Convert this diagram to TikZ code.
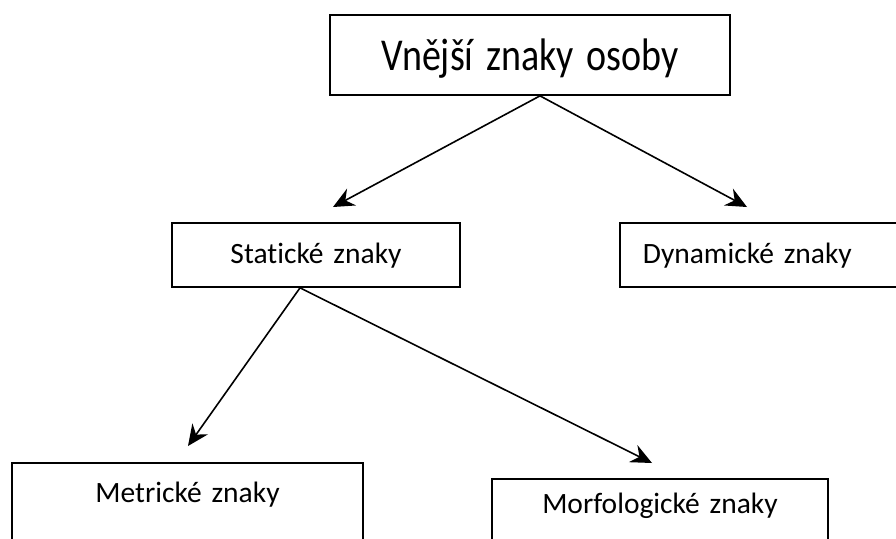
\documentclass[tikz,border=0pt]{standalone}
\usepackage{fontspec}
\setmainfont[Ligatures=NoCommon,WordSpace=0.75]{Carlito}
\usetikzlibrary{arrows.meta}
\begin{document}
\begin{tikzpicture}[x=1pt,y=-1pt,
  box/.style={draw=black, line width=1.7pt, inner sep=0pt, anchor=base, align=center},
  conn/.style={line width=1.6pt, -{Stealth[length=21pt,width=19pt,inset=7pt]}}]
\useasboundingbox (0,0) rectangle (896,538);
\clip (0,0) rectangle (896,538);
\node[box, text width=400pt, text height=55pt, text depth=25pt, font=\fontsize{38}{44}\selectfont] (top) at (530,70) {\scalebox{1}[1.2]{Vnější znaky osoby}};
\node[box, text width=288pt, text height=40pt, text depth=24pt, font=\fontsize{29.5}{35}\selectfont] (stat) at (316,263) {Statické znaky};
\node[box, anchor=base west, align=left, text width=300pt, text height=40pt, text depth=24pt, font=\fontsize{29.5}{35}\selectfont] (dyn) at (619,263) {\hspace*{23pt}Dynamické znaky};
\node[box, text width=351pt, text height=39pt, text depth=58pt, font=\fontsize{29.5}{35}\selectfont] (met) at (187.5,502) {Metrické znaky};
\node[box, text width=336pt, text height=34pt, text depth=47pt, font=\fontsize{29.5}{35}\selectfont] (mor) at (660,513) {Morfologické znaky};
\coordinate (t1) at (333,207);
\coordinate (t2) at (747,207);
\coordinate (t3) at (188,446);
\coordinate (t4) at (652,463);
\draw[conn] ([xshift=10pt]top.south) -- (t1);
\draw[conn] ([xshift=10pt]top.south) -- (t2);
\draw[conn] ([xshift=-16pt]stat.south) -- (t3);
\draw[conn] ([xshift=-16pt]stat.south) -- (t4);
\end{tikzpicture}
\end{document}
